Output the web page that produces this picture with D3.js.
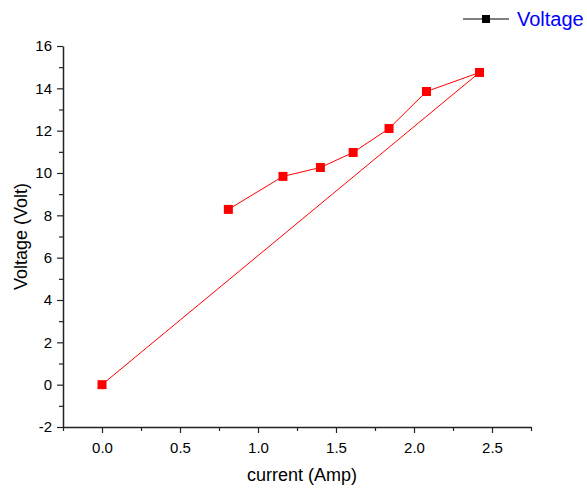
<!DOCTYPE html>
<html>
<head>
<meta charset="utf-8">
<script src="https://cdn.jsdelivr.net/npm/d3@7"></script>
<style>
  body { margin: 0; background: #fff; }
  text { font-family: "Liberation Sans", Arial, sans-serif; }
</style>
</head>
<body>
<div id="chart"></div>
<script>
// data, in plotting order
var current = [0.0, 2.42, 2.08, 1.84, 1.61, 1.40, 1.16, 0.81];
var voltage = [0.0, 14.75, 13.85, 12.10, 10.97, 10.26, 9.84, 8.28];
var xTicks = [0.0, 0.5, 1.0, 1.5, 2.0, 2.5];
var yTicks = [-2, 0, 2, 4, 6, 8, 10, 12, 14, 16];
var seriesName = "Voltage";

var W = 587, H = 491;
var margin = {top: 46, right: 56, bottom: 64, left: 63};

var svg = d3.select("#chart").append("svg")
    .attr("width", W)
    .attr("height", H);

var x = d3.scaleLinear().domain([-0.25, 2.75]).range([margin.left, W - margin.right]);
var y = d3.scaleLinear().domain([-2, 16]).range([H - margin.bottom, margin.top]);

var pts = current.map(function(c, i){ return [c, voltage[i]]; });

// x axis
var xMinor = d3.range(-0.25, 2.76, 0.25).filter(function(v){ return Math.abs(v / 0.5 - Math.round(v / 0.5)) > 1e-6; });
var gx = svg.append("g").attr("transform", "translate(0," + y(-2) + ")");
gx.append("g").call(d3.axisBottom(x).tickValues(xMinor).tickSize(4).tickFormat(""))
    .call(function(g){ g.select(".domain").remove(); });
gx.append("g").call(d3.axisBottom(x).tickValues(xTicks).tickSize(6).tickSizeOuter(0).tickPadding(9)
    .tickFormat(d3.format(".1f")));

// y axis
var yMinor = d3.range(-1, 16, 2);
var gy = svg.append("g").attr("transform", "translate(" + x(-0.25) + ",0)");
gy.append("g").call(d3.axisLeft(y).tickValues(yMinor).tickSize(4).tickFormat(""))
    .call(function(g){ g.select(".domain").remove(); });
gy.append("g").call(d3.axisLeft(y).tickValues(yTicks).tickSize(6).tickSizeOuter(0).tickPadding(5)
    .tickFormat(function(d){ return String(d); }));

svg.selectAll(".domain").attr("stroke", "#222").attr("stroke-width", 1.5);
svg.selectAll(".tick line").attr("stroke", "#222").attr("stroke-width", 1.2);
svg.selectAll(".tick text").attr("font-size", "15px").attr("fill", "#000")
    .style("font-family", "'Liberation Sans', Arial, sans-serif");

// axis titles
svg.append("text")
    .attr("x", 302)
    .attr("y", 481)
    .attr("text-anchor", "middle")
    .attr("font-size", "18px")
    .text("current (Amp)");

svg.append("text")
    .attr("transform", "translate(27," + y(7) + ") rotate(-90)")
    .attr("text-anchor", "middle")
    .attr("font-size", "18px")
    .text("Voltage (Volt)");

// line + markers
var line = d3.line().x(function(d){ return x(d[0]); }).y(function(d){ return y(d[1]); });
svg.append("path")
    .datum(pts)
    .attr("d", line)
    .attr("fill", "none")
    .attr("stroke", "#ff0000")
    .attr("stroke-width", 1);

svg.selectAll(".pt")
    .data(pts)
    .enter()
    .append("rect")
    .attr("class", "pt")
    .attr("x", function(d){ return x(d[0]) - 4.5; })
    .attr("y", function(d){ return y(d[1]) - 4.5; })
    .attr("width", 9)
    .attr("height", 9)
    .attr("fill", "#ff0000");

// legend
var lg = svg.append("g").attr("transform", "translate(463,19)");
lg.append("line").attr("x1", 0).attr("x2", 46).attr("y1", 0).attr("y2", 0)
    .attr("stroke", "#000").attr("stroke-width", 1);
lg.append("rect").attr("x", 19).attr("y", -4).attr("width", 8).attr("height", 8).attr("fill", "#000");
lg.append("text").attr("x", 54).attr("y", 7).attr("font-size", "20px").attr("fill", "#0000ff")
    .text(seriesName);
</script>
</body>
</html>
